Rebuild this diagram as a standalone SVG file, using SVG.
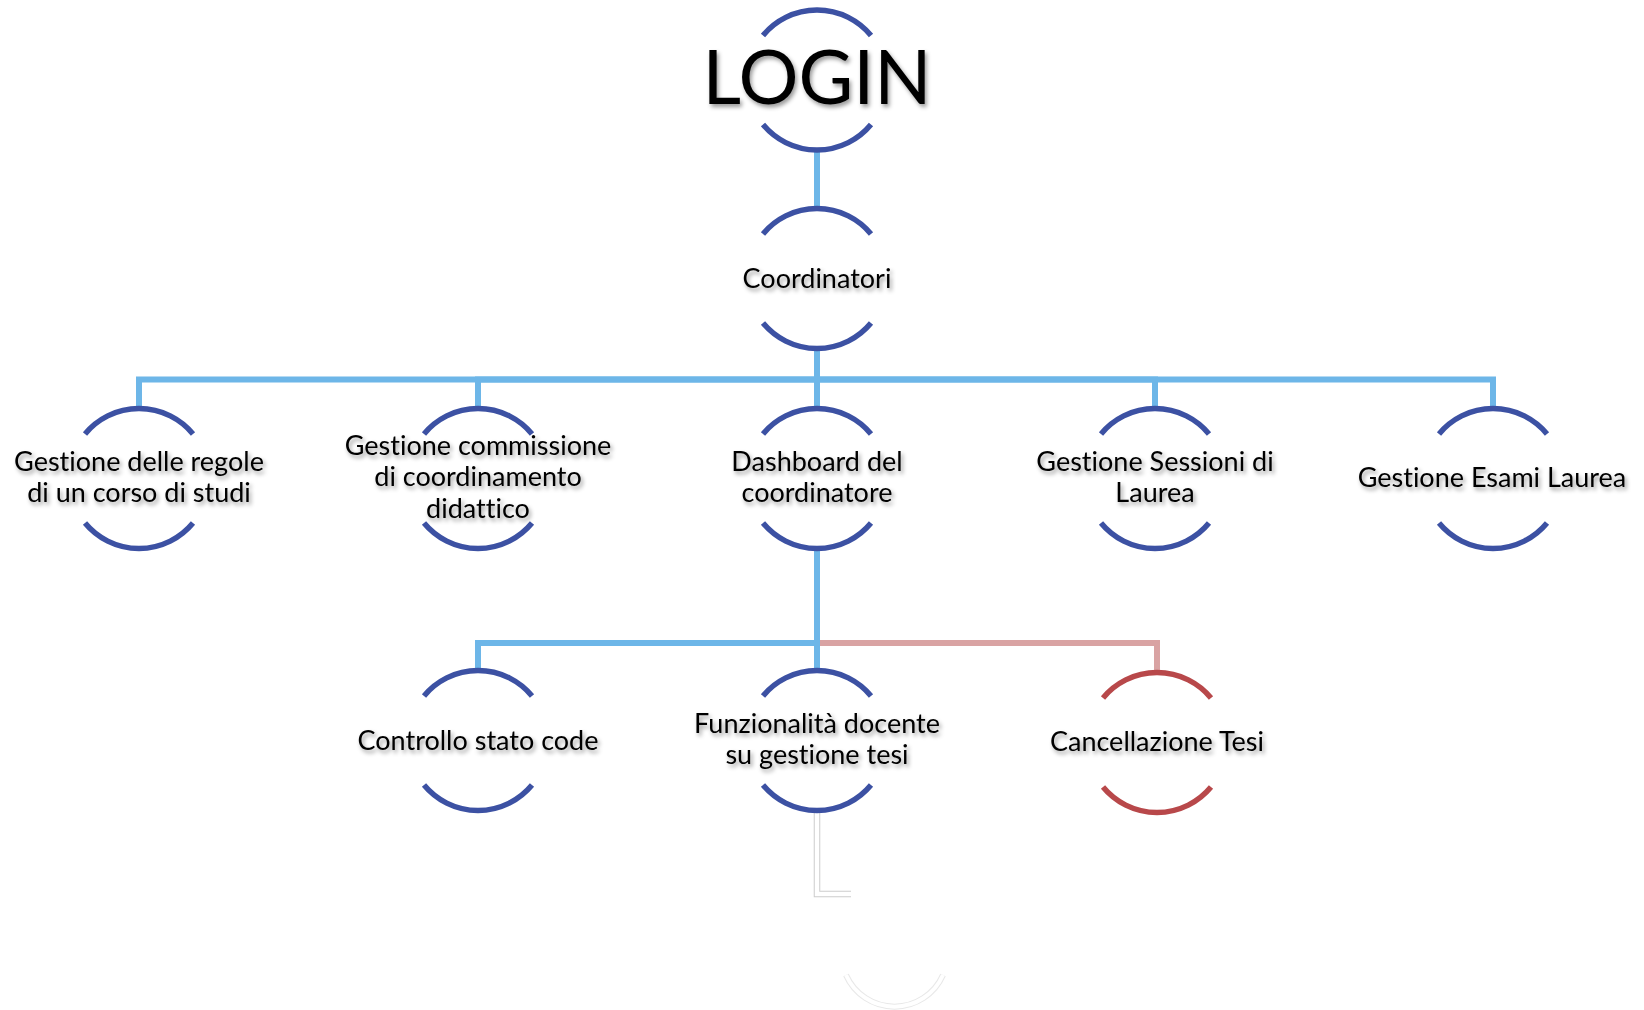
<svg xmlns="http://www.w3.org/2000/svg" width="1644" height="1010" viewBox="0 0 1644 1010">
<defs>
<filter id="sh" x="-10%" y="-30%" width="120%" height="160%">
<feDropShadow dx="2" dy="3" stdDeviation="2.2" flood-color="#000" flood-opacity="0.4"/>
</filter>
<style>
.arc{fill:none;stroke:#3C51A3;stroke-width:5.5}
.arcr{fill:none;stroke:#B8484A;stroke-width:5.5}
.cb{fill:none;stroke:#6DB6E8;stroke-width:6;stroke-linejoin:miter}
.cp{fill:none;stroke:#D9A3A3;stroke-width:6;stroke-linejoin:miter}
.t{font-family:Lato,"Liberation Sans",sans-serif;font-size:27px;fill:#000;text-anchor:middle;filter:url(#sh);font-variant-ligatures:none;font-feature-settings:"liga" 0}
.big{font-size:75px}
</style>
</defs>
<rect width="1644" height="1010" fill="#fff"/>
<g id="connectors">
<path class="cb" d="M817,150 V208"/>
<path class="cb" d="M817,348 V379.5 H139 V409"/>
<path class="cb" d="M817,348 V379.5 H478 V409"/>
<path class="cb" d="M817,348 V409"/>
<path class="cb" d="M817,348 V379.5 H1155 V409"/>
<path class="cb" d="M817,348 V379.5 H1493 V409"/>
<path class="cp" d="M817,643 H1157 V672"/>
<path class="cb" d="M817,548 V643 H478 V671"/>
<path class="cb" d="M817,548 V671"/>
<path d="M817,813 V894 H851" fill="none" stroke="#CCCCCC" stroke-width="6.5"/>
<path d="M817,813 V894 H851" fill="none" stroke="#fff" stroke-width="4.5"/>
</g>
<g id="login">
<path class="arc" d="M763,35.5 A70 70 0 0 1 871,35.5"/>
<path class="arc" d="M763,124.5 A70 70 0 0 0 871,124.5"/>
<text class="t big" x="817" y="104">LOGIN</text>
</g>
<g id="coordinatori">
<path class="arc" d="M763,234 A70 70 0 0 1 871,234"/>
<path class="arc" d="M763,323 A70 70 0 0 0 871,323"/>
<text class="t" x="817" y="287.5">Coordinatori</text>
</g>
<g id="regole">
<path class="arc" d="M85,434 A70 70 0 0 1 193,434"/>
<path class="arc" d="M85,523 A70 70 0 0 0 193,523"/>
<text class="t" x="139" y="470.5">Gestione delle regole</text>
<text class="t" x="139" y="501.5">di un corso di studi</text>
</g>
<g id="commissione">
<path class="arc" d="M424,434 A70 70 0 0 1 532,434"/>
<path class="arc" d="M424,523 A70 70 0 0 0 532,523"/>
<text class="t" x="478" y="454.5">Gestione commissione</text>
<text class="t" x="478" y="486">di coordinamento</text>
<text class="t" x="478" y="517.5">didattico</text>
</g>
<g id="dashboard">
<path class="arc" d="M763,434 A70 70 0 0 1 871,434"/>
<path class="arc" d="M763,523 A70 70 0 0 0 871,523"/>
<text class="t" x="817" y="470.5">Dashboard del</text>
<text class="t" x="817" y="501.5">coordinatore</text>
</g>
<g id="sessioni">
<path class="arc" d="M1101,434 A70 70 0 0 1 1209,434"/>
<path class="arc" d="M1101,523 A70 70 0 0 0 1209,523"/>
<text class="t" x="1155" y="470.5">Gestione Sessioni di</text>
<text class="t" x="1155" y="501.5">Laurea</text>
</g>
<g id="esami">
<path class="arc" d="M1439,434 A70 70 0 0 1 1547,434"/>
<path class="arc" d="M1439,523 A70 70 0 0 0 1547,523"/>
<text class="t" x="1492" y="487">Gestione Esami Laurea</text>
</g>
<g id="controllo">
<path class="arc" d="M424,696 A70 70 0 0 1 532,696"/>
<path class="arc" d="M424,785 A70 70 0 0 0 532,785"/>
<text class="t" x="478" y="750">Controllo stato code</text>
</g>
<g id="funzionalita">
<path class="arc" d="M763,696 A70 70 0 0 1 871,696"/>
<path class="arc" d="M763,785 A70 70 0 0 0 871,785"/>
<text class="t" x="817" y="732.5">Funzionalità docente</text>
<text class="t" x="817" y="763.5">su gestione tesi</text>
</g>
<g id="cancellazione">
<path class="arcr" d="M1103,698 A70 70 0 0 1 1211,698"/>
<path class="arcr" d="M1103,787 A70 70 0 0 0 1211,787"/>
<text class="t" x="1157" y="751">Cancellazione Tesi</text>
</g>
<g id="faint">
<path d="M846,975 A53 53 0 0 0 943,975" fill="none" stroke="#E8E8E8" stroke-width="6"/>
<path d="M846,975 A53 53 0 0 0 943,975" fill="none" stroke="#fff" stroke-width="4"/>
</g>
</svg>
